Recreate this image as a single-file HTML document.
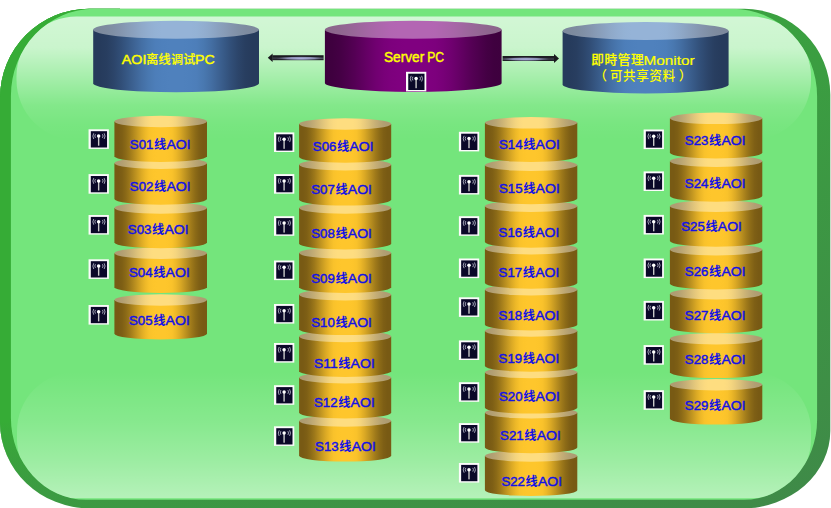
<!DOCTYPE html>
<html lang="zh"><head><meta charset="utf-8"><title>AOI Network</title>
<style>
html,body{margin:0;padding:0;background:#fff;}
body{width:831px;height:508px;overflow:hidden;}
svg{display:block;}
text{font-family:"Liberation Sans","Noto Sans CJK SC",sans-serif;}
.lb{fill:#1212e6;}/*14*/
.lb .la{font-weight:normal;stroke:#1212e6;stroke-width:0.45px;}
.lb .cj{font-weight:700;}
.yt,.yt3{fill:#ffff00;}
.yt .la{font-weight:normal;stroke:#ffff00;stroke-width:0.45px;}
.yt .lt{stroke-width:0.22px;}
.yt .cj{font-weight:500;stroke:#ffff00;stroke-width:0.2px;}
.yt3 .cj{font-weight:500;}
</style></head><body>
<svg width="831" height="508" viewBox="0 0 831 508">
<defs><linearGradient id="gB" x1="0" y1="0" x2="1" y2="0"><stop offset="0" stop-color="rgb(38,59,92)"/><stop offset="0.0416667" stop-color="rgb(38,59,92)"/><stop offset="0.0833333" stop-color="rgb(40,62,96)"/><stop offset="0.125" stop-color="rgb(44,69,106)"/><stop offset="0.166667" stop-color="rgb(49,78,119)"/><stop offset="0.208333" stop-color="rgb(55,89,134)"/><stop offset="0.25" stop-color="rgb(62,100,149)"/><stop offset="0.291667" stop-color="rgb(68,111,164)"/><stop offset="0.333333" stop-color="rgb(73,120,176)"/><stop offset="0.375" stop-color="rgb(77,126,185)"/><stop offset="0.416667" stop-color="rgb(78,128,188)"/><stop offset="0.458333" stop-color="rgb(79,129,189)"/><stop offset="0.5" stop-color="rgb(79,129,189)"/><stop offset="0.541667" stop-color="rgb(79,129,189)"/><stop offset="0.583333" stop-color="rgb(78,128,188)"/><stop offset="0.625" stop-color="rgb(77,126,185)"/><stop offset="0.666667" stop-color="rgb(73,120,176)"/><stop offset="0.708333" stop-color="rgb(68,111,164)"/><stop offset="0.75" stop-color="rgb(62,100,149)"/><stop offset="0.791667" stop-color="rgb(55,89,134)"/><stop offset="0.833333" stop-color="rgb(49,78,119)"/><stop offset="0.875" stop-color="rgb(44,69,106)"/><stop offset="0.916667" stop-color="rgb(40,62,96)"/><stop offset="0.958333" stop-color="rgb(38,59,92)"/><stop offset="1" stop-color="rgb(38,59,92)"/></linearGradient>
<linearGradient id="gBT" x1="0" y1="0" x2="1" y2="0"><stop offset="0" stop-color="rgb(125,137,157)"/><stop offset="0.0416667" stop-color="rgb(125,138,157)"/><stop offset="0.0833333" stop-color="rgb(126,140,160)"/><stop offset="0.125" stop-color="rgb(128,144,166)"/><stop offset="0.166667" stop-color="rgb(132,149,174)"/><stop offset="0.208333" stop-color="rgb(136,156,183)"/><stop offset="0.25" stop-color="rgb(139,162,192)"/><stop offset="0.291667" stop-color="rgb(143,169,201)"/><stop offset="0.333333" stop-color="rgb(146,174,208)"/><stop offset="0.375" stop-color="rgb(148,178,213)"/><stop offset="0.416667" stop-color="rgb(149,179,215)"/><stop offset="0.458333" stop-color="rgb(149,179,215)"/><stop offset="0.5" stop-color="rgb(149,179,215)"/><stop offset="0.541667" stop-color="rgb(149,179,215)"/><stop offset="0.583333" stop-color="rgb(149,179,215)"/><stop offset="0.625" stop-color="rgb(148,178,213)"/><stop offset="0.666667" stop-color="rgb(146,174,208)"/><stop offset="0.708333" stop-color="rgb(143,169,201)"/><stop offset="0.75" stop-color="rgb(139,162,192)"/><stop offset="0.791667" stop-color="rgb(136,156,183)"/><stop offset="0.833333" stop-color="rgb(132,149,174)"/><stop offset="0.875" stop-color="rgb(128,144,166)"/><stop offset="0.916667" stop-color="rgb(126,140,160)"/><stop offset="0.958333" stop-color="rgb(125,138,157)"/><stop offset="1" stop-color="rgb(125,137,157)"/></linearGradient>
<linearGradient id="gP" x1="0" y1="0" x2="1" y2="0"><stop offset="0" stop-color="rgb(62,0,62)"/><stop offset="0.0416667" stop-color="rgb(63,0,63)"/><stop offset="0.0833333" stop-color="rgb(68,0,68)"/><stop offset="0.125" stop-color="rgb(76,0,76)"/><stop offset="0.166667" stop-color="rgb(84,0,84)"/><stop offset="0.208333" stop-color="rgb(94,0,94)"/><stop offset="0.25" stop-color="rgb(104,0,104)"/><stop offset="0.291667" stop-color="rgb(113,0,113)"/><stop offset="0.333333" stop-color="rgb(120,0,120)"/><stop offset="0.375" stop-color="rgb(125,0,125)"/><stop offset="0.416667" stop-color="rgb(127,0,127)"/><stop offset="0.458333" stop-color="rgb(128,0,128)"/><stop offset="0.5" stop-color="rgb(128,0,128)"/><stop offset="0.541667" stop-color="rgb(128,0,128)"/><stop offset="0.583333" stop-color="rgb(127,0,127)"/><stop offset="0.625" stop-color="rgb(125,0,125)"/><stop offset="0.666667" stop-color="rgb(120,0,120)"/><stop offset="0.708333" stop-color="rgb(113,0,113)"/><stop offset="0.75" stop-color="rgb(104,0,104)"/><stop offset="0.791667" stop-color="rgb(94,0,94)"/><stop offset="0.833333" stop-color="rgb(84,0,84)"/><stop offset="0.875" stop-color="rgb(76,0,76)"/><stop offset="0.916667" stop-color="rgb(68,0,68)"/><stop offset="0.958333" stop-color="rgb(63,0,63)"/><stop offset="1" stop-color="rgb(62,0,62)"/></linearGradient>
<linearGradient id="gPT" x1="0" y1="0" x2="1" y2="0"><stop offset="0" stop-color="rgb(139,102,139)"/><stop offset="0.0416667" stop-color="rgb(140,102,140)"/><stop offset="0.0833333" stop-color="rgb(143,102,143)"/><stop offset="0.125" stop-color="rgb(148,102,148)"/><stop offset="0.166667" stop-color="rgb(153,102,153)"/><stop offset="0.208333" stop-color="rgb(159,102,159)"/><stop offset="0.25" stop-color="rgb(165,102,165)"/><stop offset="0.291667" stop-color="rgb(170,102,170)"/><stop offset="0.333333" stop-color="rgb(174,102,174)"/><stop offset="0.375" stop-color="rgb(178,102,178)"/><stop offset="0.416667" stop-color="rgb(179,102,179)"/><stop offset="0.458333" stop-color="rgb(179,102,179)"/><stop offset="0.5" stop-color="rgb(179,102,179)"/><stop offset="0.541667" stop-color="rgb(179,102,179)"/><stop offset="0.583333" stop-color="rgb(179,102,179)"/><stop offset="0.625" stop-color="rgb(178,102,178)"/><stop offset="0.666667" stop-color="rgb(174,102,174)"/><stop offset="0.708333" stop-color="rgb(170,102,170)"/><stop offset="0.75" stop-color="rgb(165,102,165)"/><stop offset="0.791667" stop-color="rgb(159,102,159)"/><stop offset="0.833333" stop-color="rgb(153,102,153)"/><stop offset="0.875" stop-color="rgb(148,102,148)"/><stop offset="0.916667" stop-color="rgb(143,102,143)"/><stop offset="0.958333" stop-color="rgb(140,102,140)"/><stop offset="1" stop-color="rgb(139,102,139)"/></linearGradient>
<linearGradient id="gY" x1="0" y1="0" x2="1" y2="0"><stop offset="0" stop-color="rgb(120,90,20)"/><stop offset="0.0416667" stop-color="rgb(120,90,20)"/><stop offset="0.0833333" stop-color="rgb(126,95,21)"/><stop offset="0.125" stop-color="rgb(139,106,23)"/><stop offset="0.166667" stop-color="rgb(157,120,26)"/><stop offset="0.208333" stop-color="rgb(178,137,30)"/><stop offset="0.25" stop-color="rgb(199,154,34)"/><stop offset="0.291667" stop-color="rgb(220,170,37)"/><stop offset="0.333333" stop-color="rgb(237,184,40)"/><stop offset="0.375" stop-color="rgb(249,194,43)"/><stop offset="0.416667" stop-color="rgb(253,197,43)"/><stop offset="0.458333" stop-color="rgb(254,198,44)"/><stop offset="0.5" stop-color="rgb(254,198,44)"/><stop offset="0.541667" stop-color="rgb(254,198,44)"/><stop offset="0.583333" stop-color="rgb(253,197,43)"/><stop offset="0.625" stop-color="rgb(249,194,43)"/><stop offset="0.666667" stop-color="rgb(237,184,40)"/><stop offset="0.708333" stop-color="rgb(220,170,37)"/><stop offset="0.75" stop-color="rgb(199,154,34)"/><stop offset="0.791667" stop-color="rgb(178,137,30)"/><stop offset="0.833333" stop-color="rgb(157,120,26)"/><stop offset="0.875" stop-color="rgb(139,106,23)"/><stop offset="0.916667" stop-color="rgb(126,95,21)"/><stop offset="0.958333" stop-color="rgb(120,90,20)"/><stop offset="1" stop-color="rgb(120,90,20)"/></linearGradient>
<linearGradient id="gYT" x1="0" y1="0" x2="1" y2="0"><stop offset="0" stop-color="rgb(174,156,114)"/><stop offset="0.0416667" stop-color="rgb(174,156,114)"/><stop offset="0.0833333" stop-color="rgb(178,159,115)"/><stop offset="0.125" stop-color="rgb(186,166,116)"/><stop offset="0.166667" stop-color="rgb(197,174,118)"/><stop offset="0.208333" stop-color="rgb(209,184,120)"/><stop offset="0.25" stop-color="rgb(222,195,123)"/><stop offset="0.291667" stop-color="rgb(234,204,125)"/><stop offset="0.333333" stop-color="rgb(244,213,127)"/><stop offset="0.375" stop-color="rgb(251,218,128)"/><stop offset="0.416667" stop-color="rgb(254,221,128)"/><stop offset="0.458333" stop-color="rgb(254,221,128)"/><stop offset="0.5" stop-color="rgb(254,221,128)"/><stop offset="0.541667" stop-color="rgb(254,221,128)"/><stop offset="0.583333" stop-color="rgb(254,221,128)"/><stop offset="0.625" stop-color="rgb(251,218,128)"/><stop offset="0.666667" stop-color="rgb(244,213,127)"/><stop offset="0.708333" stop-color="rgb(234,204,125)"/><stop offset="0.75" stop-color="rgb(222,195,123)"/><stop offset="0.791667" stop-color="rgb(209,184,120)"/><stop offset="0.833333" stop-color="rgb(197,174,118)"/><stop offset="0.875" stop-color="rgb(186,166,116)"/><stop offset="0.916667" stop-color="rgb(178,159,115)"/><stop offset="0.958333" stop-color="rgb(174,156,114)"/><stop offset="1" stop-color="rgb(174,156,114)"/></linearGradient>
<linearGradient id="bevA" gradientUnits="userSpaceOnUse" x1="0" y1="0" x2="347" y2="736"><stop offset="0" stop-color="rgb(55,178,58)"/><stop offset="1" stop-color="rgb(63,137,72)"/></linearGradient>
<linearGradient id="bevL" gradientUnits="userSpaceOnUse" x1="0" y1="421" x2="0" y2="492"><stop offset="0" stop-color="rgb(54,172,54)" stop-opacity="1"/><stop offset="1" stop-color="rgb(56,160,58)" stop-opacity="0"/></linearGradient>
<linearGradient id="hlT" x1="0" y1="0" x2="0" y2="1"><stop offset="0" stop-color="#fff" stop-opacity="0.68"/><stop offset="0.25" stop-color="#fff" stop-opacity="0.62"/><stop offset="0.5" stop-color="#fff" stop-opacity="0.35"/><stop offset="0.72" stop-color="#fff" stop-opacity="0.11"/><stop offset="0.88" stop-color="#fff" stop-opacity="0.03"/><stop offset="1" stop-color="#fff" stop-opacity="0"/></linearGradient>
<linearGradient id="hlB" x1="0" y1="0" x2="0" y2="1"><stop offset="0" stop-color="#fff" stop-opacity="0"/><stop offset="0.4" stop-color="#fff" stop-opacity="0.14"/><stop offset="0.7" stop-color="#fff" stop-opacity="0.29"/><stop offset="1" stop-color="#fff" stop-opacity="0.47"/></linearGradient>
<clipPath id="faceClip"><path d="M94.00,8.80 L732.60,8.80 A84.50,87.50 0 0 1 817.10,96.30 L817.10,419.95 A73.10,79.80 0 0 1 744.00,499.75 L85.90,499.75 A75.00,82.00 0 0 1 10.90,417.75 L10.90,95.80 A83.10,87.00 0 0 1 94.00,8.80 Z"/></clipPath>
<clipPath id="outerClip"><path d="M89.00,8.80 L744.30,8.80 A86.00,86.00 0 0 1 830.30,94.80 L830.30,431.00 A88.00,77.40 0 0 1 742.30,508.40 L90.00,508.40 A90.00,86.00 0 0 1 0.00,422.40 L0.00,97.80 A89.00,89.00 0 0 1 89.00,8.80 Z"/></clipPath>
<linearGradient id="shaft" x1="0" y1="0" x2="0" y2="1"><stop offset="0" stop-color="#26262c"/><stop offset="0.2" stop-color="#141418"/><stop offset="0.6" stop-color="#3c3d4a"/><stop offset="1" stop-color="#17171c"/></linearGradient>
<radialGradient id="shine" cx="0.5" cy="0.5" r="0.5"><stop offset="0" stop-color="#b0b5e2" stop-opacity="1"/><stop offset="0.55" stop-color="#a0a5d0" stop-opacity="0.8"/><stop offset="1" stop-color="#8085a8" stop-opacity="0"/></radialGradient>
<g id="ic"><rect x="0.1" y="0.1" width="20.3" height="19.6" fill="#fbfbfb"/><rect x="2.35" y="2" width="16.25" height="16.3" fill="#0a0828"/>
<rect x="9.5" y="7" width="1.4" height="9.5" fill="#c8c8c8"/><circle cx="10.2" cy="6.9" r="1.75" fill="#fff"/>
<path d="M5.3,4.1 Q3.5,6.9 5.3,9.8 M7.0,5.0 Q5.7,6.8 7.0,8.7 M15.7,4.1 Q17.5,6.9 15.7,9.8 M14.0,5.0 Q15.3,6.8 14.0,8.7" fill="none" stroke="#b4b4c6" stroke-width="0.9"/></g></defs>
<rect width="831" height="508" fill="#fff"/>
<path d="M89.00,8.80 L744.30,8.80 A86.00,86.00 0 0 1 830.30,94.80 L830.30,431.00 A88.00,77.40 0 0 1 742.30,508.40 L90.00,508.40 A90.00,86.00 0 0 1 0.00,422.40 L0.00,97.80 A89.00,89.00 0 0 1 89.00,8.80 Z" fill="url(#bevA)"/>
<g clip-path="url(#outerClip)"><rect x="0" y="0" width="120" height="495" fill="url(#bevL)"/><rect x="0" y="0" width="120" height="421" fill="rgb(54,172,54)"/></g>
<g clip-path="url(#outerClip)"><path d="M94.00,8.80 L732.60,8.80 A84.50,87.50 0 0 1 817.10,96.30 L817.10,419.95 A73.10,79.80 0 0 1 744.00,499.75 L85.90,499.75 A75.00,82.00 0 0 1 10.90,417.75 L10.90,95.80 A83.10,87.00 0 0 1 94.00,8.80 Z" fill="rgb(116,229,124)"/></g>
<g clip-path="url(#faceClip)">
<rect x="16.5" y="16.5" width="794.5" height="123.5" rx="60" ry="60" fill="url(#hlT)"/>
<rect x="17" y="372" width="794.0" height="126.3" rx="59" ry="59" fill="url(#hlB)"/>
</g>
<rect x="272.30" y="55.20" width="51.30" height="5.00" fill="url(#shaft)"/><ellipse cx="300.95" cy="58.30" rx="24.65" ry="2.00" fill="url(#shine)"/><path d="M267.80,57.70 L272.60,53.40 L272.60,62.00 Z" fill="#19191e"/>
<rect x="502.60" y="56.00" width="51.70" height="5.00" fill="url(#shaft)"/><ellipse cx="525.45" cy="59.10" rx="24.85" ry="2.00" fill="url(#shine)"/><path d="M559.00,58.50 L554.00,54.00 L554.00,63.00 Z" fill="#19191e"/>
<path d="M93.20,29.80 L93.20,83.30 A82.90,9.00 0 0 0 259.00,83.30 L259.00,29.80 Z" fill="url(#gB)"/><ellipse cx="176.10" cy="29.80" rx="82.90" ry="9.00" fill="url(#gBT)"/>
<path d="M324.90,29.80 L324.90,82.90 A88.35,9.00 0 0 0 501.60,82.90 L501.60,29.80 Z" fill="url(#gP)"/><ellipse cx="413.25" cy="29.80" rx="88.35" ry="9.00" fill="url(#gPT)"/>
<path d="M562.60,31.00 L562.60,84.50 A83.00,9.00 0 0 0 728.60,84.50 L728.60,31.00 Z" fill="url(#gB)"/><ellipse cx="645.60" cy="31.00" rx="83.00" ry="9.00" fill="url(#gBT)"/>
<path d="M114.40,299.95 L114.40,333.75 A46.30,5.75 0 0 0 207.00,333.75 L207.00,299.95 Z" fill="url(#gY)"/><ellipse cx="160.70" cy="299.95" rx="46.30" ry="5.75" fill="url(#gYT)"/>
<path d="M114.40,253.25 L114.40,287.15 A46.30,5.75 0 0 0 207.00,287.15 L207.00,253.25 Z" fill="url(#gY)"/><ellipse cx="160.70" cy="253.25" rx="46.30" ry="5.75" fill="url(#gYT)"/>
<path d="M114.40,207.95 L114.40,242.55 A46.30,5.75 0 0 0 207.00,242.55 L207.00,207.95 Z" fill="url(#gY)"/><ellipse cx="160.70" cy="207.95" rx="46.30" ry="5.75" fill="url(#gYT)"/>
<path d="M114.40,163.25 L114.40,198.95 A46.30,5.75 0 0 0 207.00,198.95 L207.00,163.25 Z" fill="url(#gY)"/><ellipse cx="160.70" cy="163.25" rx="46.30" ry="5.75" fill="url(#gYT)"/>
<path d="M114.40,121.55 L114.40,156.25 A46.30,5.75 0 0 0 207.00,156.25 L207.00,121.55 Z" fill="url(#gY)"/><ellipse cx="160.70" cy="121.55" rx="46.30" ry="5.75" fill="url(#gYT)"/>
<text y="148.90" class="lb"><tspan class="la" x="129.80" textLength="23.60" lengthAdjust="spacingAndGlyphs" font-size="13.5">S01</tspan><tspan class="cj" x="154.00" textLength="12.20" lengthAdjust="spacingAndGlyphs" font-size="12.2">线</tspan><tspan class="la" x="166.40" textLength="24.20" lengthAdjust="spacingAndGlyphs" font-size="13.5">AOI</tspan></text>
<use href="#ic" x="88.45" y="129.20"/>
<text y="190.50" class="lb"><tspan class="la" x="129.80" textLength="23.60" lengthAdjust="spacingAndGlyphs" font-size="13.5">S02</tspan><tspan class="cj" x="154.00" textLength="12.20" lengthAdjust="spacingAndGlyphs" font-size="12.2">线</tspan><tspan class="la" x="166.40" textLength="24.20" lengthAdjust="spacingAndGlyphs" font-size="13.5">AOI</tspan></text>
<use href="#ic" x="88.45" y="174.00"/>
<text y="233.80" class="lb"><tspan class="la" x="127.80" textLength="23.60" lengthAdjust="spacingAndGlyphs" font-size="13.5">S03</tspan><tspan class="cj" x="152.00" textLength="12.20" lengthAdjust="spacingAndGlyphs" font-size="12.2">线</tspan><tspan class="la" x="164.40" textLength="24.20" lengthAdjust="spacingAndGlyphs" font-size="13.5">AOI</tspan></text>
<use href="#ic" x="88.45" y="214.90"/>
<text y="277.00" class="lb"><tspan class="la" x="129.00" textLength="23.60" lengthAdjust="spacingAndGlyphs" font-size="13.5">S04</tspan><tspan class="cj" x="153.20" textLength="12.20" lengthAdjust="spacingAndGlyphs" font-size="12.2">线</tspan><tspan class="la" x="165.60" textLength="24.20" lengthAdjust="spacingAndGlyphs" font-size="13.5">AOI</tspan></text>
<use href="#ic" x="88.45" y="259.20"/>
<text y="324.90" class="lb"><tspan class="la" x="129.00" textLength="23.60" lengthAdjust="spacingAndGlyphs" font-size="13.5">S05</tspan><tspan class="cj" x="153.20" textLength="12.20" lengthAdjust="spacingAndGlyphs" font-size="12.2">线</tspan><tspan class="la" x="165.60" textLength="24.20" lengthAdjust="spacingAndGlyphs" font-size="13.5">AOI</tspan></text>
<use href="#ic" x="88.45" y="304.90"/>
<path d="M299.10,421.05 L299.10,455.85 A46.05,5.75 0 0 0 391.20,455.85 L391.20,421.05 Z" fill="url(#gY)"/><ellipse cx="345.15" cy="421.05" rx="46.05" ry="5.75" fill="url(#gYT)"/>
<path d="M299.10,377.75 L299.10,412.75 A46.05,5.75 0 0 0 391.20,412.75 L391.20,377.75 Z" fill="url(#gY)"/><ellipse cx="345.15" cy="377.75" rx="46.05" ry="5.75" fill="url(#gYT)"/>
<path d="M299.10,336.55 L299.10,371.15 A46.05,5.75 0 0 0 391.20,371.15 L391.20,336.55 Z" fill="url(#gY)"/><ellipse cx="345.15" cy="336.55" rx="46.05" ry="5.75" fill="url(#gYT)"/>
<path d="M299.10,294.75 L299.10,329.35 A46.05,5.75 0 0 0 391.20,329.35 L391.20,294.75 Z" fill="url(#gY)"/><ellipse cx="345.15" cy="294.75" rx="46.05" ry="5.75" fill="url(#gYT)"/>
<path d="M299.10,253.05 L299.10,287.25 A46.05,5.75 0 0 0 391.20,287.25 L391.20,253.05 Z" fill="url(#gY)"/><ellipse cx="345.15" cy="253.05" rx="46.05" ry="5.75" fill="url(#gYT)"/>
<path d="M299.10,208.05 L299.10,243.65 A46.05,5.75 0 0 0 391.20,243.65 L391.20,208.05 Z" fill="url(#gY)"/><ellipse cx="345.15" cy="208.05" rx="46.05" ry="5.75" fill="url(#gYT)"/>
<path d="M299.10,164.75 L299.10,199.85 A46.05,5.75 0 0 0 391.20,199.85 L391.20,164.75 Z" fill="url(#gY)"/><ellipse cx="345.15" cy="164.75" rx="46.05" ry="5.75" fill="url(#gYT)"/>
<path d="M299.10,123.95 L299.10,156.95 A46.05,5.75 0 0 0 391.20,156.95 L391.20,123.95 Z" fill="url(#gY)"/><ellipse cx="345.15" cy="123.95" rx="46.05" ry="5.75" fill="url(#gYT)"/>
<text y="150.90" class="lb"><tspan class="la" x="312.80" textLength="23.60" lengthAdjust="spacingAndGlyphs" font-size="13.5">S06</tspan><tspan class="cj" x="337.00" textLength="12.20" lengthAdjust="spacingAndGlyphs" font-size="12.2">线</tspan><tspan class="la" x="349.40" textLength="24.20" lengthAdjust="spacingAndGlyphs" font-size="13.5">AOI</tspan></text>
<use href="#ic" x="273.90" y="132.30"/>
<text y="194.10" class="lb"><tspan class="la" x="311.20" textLength="23.60" lengthAdjust="spacingAndGlyphs" font-size="13.5">S07</tspan><tspan class="cj" x="335.40" textLength="12.20" lengthAdjust="spacingAndGlyphs" font-size="12.2">线</tspan><tspan class="la" x="347.80" textLength="24.20" lengthAdjust="spacingAndGlyphs" font-size="13.5">AOI</tspan></text>
<use href="#ic" x="273.90" y="174.00"/>
<text y="237.70" class="lb"><tspan class="la" x="311.20" textLength="23.60" lengthAdjust="spacingAndGlyphs" font-size="13.5">S08</tspan><tspan class="cj" x="335.40" textLength="12.20" lengthAdjust="spacingAndGlyphs" font-size="12.2">线</tspan><tspan class="la" x="347.80" textLength="24.20" lengthAdjust="spacingAndGlyphs" font-size="13.5">AOI</tspan></text>
<use href="#ic" x="273.90" y="216.10"/>
<text y="282.90" class="lb"><tspan class="la" x="311.20" textLength="23.60" lengthAdjust="spacingAndGlyphs" font-size="13.5">S09</tspan><tspan class="cj" x="335.40" textLength="12.20" lengthAdjust="spacingAndGlyphs" font-size="12.2">线</tspan><tspan class="la" x="347.80" textLength="24.20" lengthAdjust="spacingAndGlyphs" font-size="13.5">AOI</tspan></text>
<use href="#ic" x="273.90" y="260.40"/>
<text y="327.20" class="lb"><tspan class="la" x="311.20" textLength="23.60" lengthAdjust="spacingAndGlyphs" font-size="13.5">S10</tspan><tspan class="cj" x="335.40" textLength="12.20" lengthAdjust="spacingAndGlyphs" font-size="12.2">线</tspan><tspan class="la" x="347.80" textLength="24.20" lengthAdjust="spacingAndGlyphs" font-size="13.5">AOI</tspan></text>
<use href="#ic" x="273.90" y="303.90"/>
<text y="367.80" class="lb"><tspan class="la" x="314.00" textLength="23.60" lengthAdjust="spacingAndGlyphs" font-size="13.5">S11</tspan><tspan class="cj" x="338.20" textLength="12.20" lengthAdjust="spacingAndGlyphs" font-size="12.2">线</tspan><tspan class="la" x="350.60" textLength="24.20" lengthAdjust="spacingAndGlyphs" font-size="13.5">AOI</tspan></text>
<use href="#ic" x="273.90" y="342.90"/>
<text y="407.00" class="lb"><tspan class="la" x="314.00" textLength="23.60" lengthAdjust="spacingAndGlyphs" font-size="13.5">S12</tspan><tspan class="cj" x="338.20" textLength="12.20" lengthAdjust="spacingAndGlyphs" font-size="12.2">线</tspan><tspan class="la" x="350.60" textLength="24.20" lengthAdjust="spacingAndGlyphs" font-size="13.5">AOI</tspan></text>
<use href="#ic" x="273.90" y="385.10"/>
<text y="451.10" class="lb"><tspan class="la" x="315.10" textLength="23.60" lengthAdjust="spacingAndGlyphs" font-size="13.5">S13</tspan><tspan class="cj" x="339.30" textLength="12.20" lengthAdjust="spacingAndGlyphs" font-size="12.2">线</tspan><tspan class="la" x="351.70" textLength="24.20" lengthAdjust="spacingAndGlyphs" font-size="13.5">AOI</tspan></text>
<use href="#ic" x="273.90" y="426.20"/>
<path d="M484.90,456.05 L484.90,490.25 A46.20,5.75 0 0 0 577.30,490.25 L577.30,456.05 Z" fill="url(#gY)"/><ellipse cx="531.10" cy="456.05" rx="46.20" ry="5.75" fill="url(#gYT)"/>
<path d="M484.90,412.75 L484.90,447.55 A46.20,5.75 0 0 0 577.30,447.55 L577.30,412.75 Z" fill="url(#gY)"/><ellipse cx="531.10" cy="412.75" rx="46.20" ry="5.75" fill="url(#gYT)"/>
<path d="M484.90,372.55 L484.90,407.85 A46.20,5.75 0 0 0 577.30,407.85 L577.30,372.55 Z" fill="url(#gY)"/><ellipse cx="531.10" cy="372.55" rx="46.20" ry="5.75" fill="url(#gYT)"/>
<path d="M484.90,331.05 L484.90,365.95 A46.20,5.75 0 0 0 577.30,365.95 L577.30,331.05 Z" fill="url(#gY)"/><ellipse cx="531.10" cy="331.05" rx="46.20" ry="5.75" fill="url(#gYT)"/>
<path d="M484.90,289.75 L484.90,324.65 A46.20,5.75 0 0 0 577.30,324.65 L577.30,289.75 Z" fill="url(#gY)"/><ellipse cx="531.10" cy="289.75" rx="46.20" ry="5.75" fill="url(#gYT)"/>
<path d="M484.90,248.75 L484.90,282.95 A46.20,5.75 0 0 0 577.30,282.95 L577.30,248.75 Z" fill="url(#gY)"/><ellipse cx="531.10" cy="248.75" rx="46.20" ry="5.75" fill="url(#gYT)"/>
<path d="M484.90,206.25 L484.90,242.05 A46.20,5.75 0 0 0 577.30,242.05 L577.30,206.25 Z" fill="url(#gY)"/><ellipse cx="531.10" cy="206.25" rx="46.20" ry="5.75" fill="url(#gYT)"/>
<path d="M484.90,165.15 L484.90,198.55 A46.20,5.75 0 0 0 577.30,198.55 L577.30,165.15 Z" fill="url(#gY)"/><ellipse cx="531.10" cy="165.15" rx="46.20" ry="5.75" fill="url(#gYT)"/>
<path d="M484.90,122.85 L484.90,156.15 A46.20,5.75 0 0 0 577.30,156.15 L577.30,122.85 Z" fill="url(#gY)"/><ellipse cx="531.10" cy="122.85" rx="46.20" ry="5.75" fill="url(#gYT)"/>
<text y="148.90" class="lb"><tspan class="la" x="499.00" textLength="23.60" lengthAdjust="spacingAndGlyphs" font-size="13.5">S14</tspan><tspan class="cj" x="523.20" textLength="12.20" lengthAdjust="spacingAndGlyphs" font-size="12.2">线</tspan><tspan class="la" x="535.60" textLength="24.20" lengthAdjust="spacingAndGlyphs" font-size="13.5">AOI</tspan></text>
<use href="#ic" x="458.80" y="131.70"/>
<text y="193.00" class="lb"><tspan class="la" x="499.00" textLength="23.60" lengthAdjust="spacingAndGlyphs" font-size="13.5">S15</tspan><tspan class="cj" x="523.20" textLength="12.20" lengthAdjust="spacingAndGlyphs" font-size="12.2">线</tspan><tspan class="la" x="535.60" textLength="24.20" lengthAdjust="spacingAndGlyphs" font-size="13.5">AOI</tspan></text>
<use href="#ic" x="458.80" y="174.80"/>
<text y="236.90" class="lb"><tspan class="la" x="498.60" textLength="23.60" lengthAdjust="spacingAndGlyphs" font-size="13.5">S16</tspan><tspan class="cj" x="522.80" textLength="12.20" lengthAdjust="spacingAndGlyphs" font-size="12.2">线</tspan><tspan class="la" x="535.20" textLength="24.20" lengthAdjust="spacingAndGlyphs" font-size="13.5">AOI</tspan></text>
<use href="#ic" x="458.80" y="216.10"/>
<text y="276.90" class="lb"><tspan class="la" x="498.60" textLength="23.60" lengthAdjust="spacingAndGlyphs" font-size="13.5">S17</tspan><tspan class="cj" x="522.80" textLength="12.20" lengthAdjust="spacingAndGlyphs" font-size="12.2">线</tspan><tspan class="la" x="535.20" textLength="24.20" lengthAdjust="spacingAndGlyphs" font-size="13.5">AOI</tspan></text>
<use href="#ic" x="458.80" y="258.40"/>
<text y="319.70" class="lb"><tspan class="la" x="498.60" textLength="23.60" lengthAdjust="spacingAndGlyphs" font-size="13.5">S18</tspan><tspan class="cj" x="522.80" textLength="12.20" lengthAdjust="spacingAndGlyphs" font-size="12.2">线</tspan><tspan class="la" x="535.20" textLength="24.20" lengthAdjust="spacingAndGlyphs" font-size="13.5">AOI</tspan></text>
<use href="#ic" x="458.80" y="297.20"/>
<text y="363.10" class="lb"><tspan class="la" x="498.60" textLength="23.60" lengthAdjust="spacingAndGlyphs" font-size="13.5">S19</tspan><tspan class="cj" x="522.80" textLength="12.20" lengthAdjust="spacingAndGlyphs" font-size="12.2">线</tspan><tspan class="la" x="535.20" textLength="24.20" lengthAdjust="spacingAndGlyphs" font-size="13.5">AOI</tspan></text>
<use href="#ic" x="458.80" y="340.30"/>
<text y="400.80" class="lb"><tspan class="la" x="499.00" textLength="23.60" lengthAdjust="spacingAndGlyphs" font-size="13.5">S20</tspan><tspan class="cj" x="523.20" textLength="12.20" lengthAdjust="spacingAndGlyphs" font-size="12.2">线</tspan><tspan class="la" x="535.60" textLength="24.20" lengthAdjust="spacingAndGlyphs" font-size="13.5">AOI</tspan></text>
<use href="#ic" x="458.80" y="382.10"/>
<text y="439.80" class="lb"><tspan class="la" x="500.10" textLength="23.60" lengthAdjust="spacingAndGlyphs" font-size="13.5">S21</tspan><tspan class="cj" x="524.30" textLength="12.20" lengthAdjust="spacingAndGlyphs" font-size="12.2">线</tspan><tspan class="la" x="536.70" textLength="24.20" lengthAdjust="spacingAndGlyphs" font-size="13.5">AOI</tspan></text>
<use href="#ic" x="458.80" y="423.00"/>
<text y="485.90" class="lb"><tspan class="la" x="501.40" textLength="23.60" lengthAdjust="spacingAndGlyphs" font-size="13.5">S22</tspan><tspan class="cj" x="525.60" textLength="12.20" lengthAdjust="spacingAndGlyphs" font-size="12.2">线</tspan><tspan class="la" x="538.00" textLength="24.20" lengthAdjust="spacingAndGlyphs" font-size="13.5">AOI</tspan></text>
<use href="#ic" x="458.80" y="462.90"/>
<path d="M669.90,384.75 L669.90,418.85 A46.20,5.75 0 0 0 762.30,418.85 L762.30,384.75 Z" fill="url(#gY)"/><ellipse cx="716.10" cy="384.75" rx="46.20" ry="5.75" fill="url(#gYT)"/>
<path d="M669.90,338.75 L669.90,372.35 A46.20,5.75 0 0 0 762.30,372.35 L762.30,338.75 Z" fill="url(#gY)"/><ellipse cx="716.10" cy="338.75" rx="46.20" ry="5.75" fill="url(#gYT)"/>
<path d="M669.90,293.75 L669.90,327.55 A46.20,5.75 0 0 0 762.30,327.55 L762.30,293.75 Z" fill="url(#gY)"/><ellipse cx="716.10" cy="293.75" rx="46.20" ry="5.75" fill="url(#gYT)"/>
<path d="M669.90,249.75 L669.90,283.75 A46.20,5.75 0 0 0 762.30,283.75 L762.30,249.75 Z" fill="url(#gY)"/><ellipse cx="716.10" cy="249.75" rx="46.20" ry="5.75" fill="url(#gYT)"/>
<path d="M669.90,206.15 L669.90,240.95 A46.20,5.75 0 0 0 762.30,240.95 L762.30,206.15 Z" fill="url(#gY)"/><ellipse cx="716.10" cy="206.15" rx="46.20" ry="5.75" fill="url(#gYT)"/>
<path d="M669.90,161.25 L669.90,195.95 A46.20,5.75 0 0 0 762.30,195.95 L762.30,161.25 Z" fill="url(#gY)"/><ellipse cx="716.10" cy="161.25" rx="46.20" ry="5.75" fill="url(#gYT)"/>
<path d="M669.90,118.35 L669.90,152.75 A46.20,5.75 0 0 0 762.30,152.75 L762.30,118.35 Z" fill="url(#gY)"/><ellipse cx="716.10" cy="118.35" rx="46.20" ry="5.75" fill="url(#gYT)"/>
<text y="144.70" class="lb"><tspan class="la" x="684.80" textLength="23.60" lengthAdjust="spacingAndGlyphs" font-size="13.5">S23</tspan><tspan class="cj" x="709.00" textLength="12.20" lengthAdjust="spacingAndGlyphs" font-size="12.2">线</tspan><tspan class="la" x="721.40" textLength="24.20" lengthAdjust="spacingAndGlyphs" font-size="13.5">AOI</tspan></text>
<use href="#ic" x="643.50" y="129.40"/>
<text y="188.00" class="lb"><tspan class="la" x="684.80" textLength="23.60" lengthAdjust="spacingAndGlyphs" font-size="13.5">S24</tspan><tspan class="cj" x="709.00" textLength="12.20" lengthAdjust="spacingAndGlyphs" font-size="12.2">线</tspan><tspan class="la" x="721.40" textLength="24.20" lengthAdjust="spacingAndGlyphs" font-size="13.5">AOI</tspan></text>
<use href="#ic" x="643.50" y="171.30"/>
<text y="231.10" class="lb"><tspan class="la" x="681.20" textLength="23.60" lengthAdjust="spacingAndGlyphs" font-size="13.5">S25</tspan><tspan class="cj" x="705.40" textLength="12.20" lengthAdjust="spacingAndGlyphs" font-size="12.2">线</tspan><tspan class="la" x="717.80" textLength="24.20" lengthAdjust="spacingAndGlyphs" font-size="13.5">AOI</tspan></text>
<use href="#ic" x="643.50" y="214.80"/>
<text y="275.80" class="lb"><tspan class="la" x="684.80" textLength="23.60" lengthAdjust="spacingAndGlyphs" font-size="13.5">S26</tspan><tspan class="cj" x="709.00" textLength="12.20" lengthAdjust="spacingAndGlyphs" font-size="12.2">线</tspan><tspan class="la" x="721.40" textLength="24.20" lengthAdjust="spacingAndGlyphs" font-size="13.5">AOI</tspan></text>
<use href="#ic" x="643.50" y="258.40"/>
<text y="319.70" class="lb"><tspan class="la" x="684.80" textLength="23.60" lengthAdjust="spacingAndGlyphs" font-size="13.5">S27</tspan><tspan class="cj" x="709.00" textLength="12.20" lengthAdjust="spacingAndGlyphs" font-size="12.2">线</tspan><tspan class="la" x="721.40" textLength="24.20" lengthAdjust="spacingAndGlyphs" font-size="13.5">AOI</tspan></text>
<use href="#ic" x="643.50" y="300.80"/>
<text y="364.20" class="lb"><tspan class="la" x="684.80" textLength="23.60" lengthAdjust="spacingAndGlyphs" font-size="13.5">S28</tspan><tspan class="cj" x="709.00" textLength="12.20" lengthAdjust="spacingAndGlyphs" font-size="12.2">线</tspan><tspan class="la" x="721.40" textLength="24.20" lengthAdjust="spacingAndGlyphs" font-size="13.5">AOI</tspan></text>
<use href="#ic" x="643.50" y="345.00"/>
<text y="409.70" class="lb"><tspan class="la" x="684.80" textLength="23.60" lengthAdjust="spacingAndGlyphs" font-size="13.5">S29</tspan><tspan class="cj" x="709.00" textLength="12.20" lengthAdjust="spacingAndGlyphs" font-size="12.2">线</tspan><tspan class="la" x="721.40" textLength="24.20" lengthAdjust="spacingAndGlyphs" font-size="13.5">AOI</tspan></text>
<use href="#ic" x="643.50" y="390.10"/>
<use href="#ic" x="405.9" y="71.7"/>
<text y="64.2" class="yt"><tspan class="la" x="121.80" textLength="24.60" lengthAdjust="spacingAndGlyphs" font-size="13.5">AOI</tspan><tspan class="cj" x="146.30" textLength="49.00" lengthAdjust="spacing" font-size="12.1">离线调试</tspan><tspan class="la" x="195.00" textLength="19.60" lengthAdjust="spacingAndGlyphs" font-size="13.5">PC</tspan></text>
<text y="61.5" class="yt"><tspan class="la" x="384.00" textLength="40.20" lengthAdjust="spacingAndGlyphs" font-size="14.2">Server</tspan><tspan class="la" x="427.20" textLength="16.80" lengthAdjust="spacingAndGlyphs" font-size="14.2">PC</tspan></text>
<text y="64.6" class="yt"><tspan class="cj" x="591.20" y="64.10" textLength="52.40" lengthAdjust="spacing" font-size="12.6">即時管理</tspan><tspan class="la lt" x="643.60" y="64.60" textLength="51.00" lengthAdjust="spacingAndGlyphs" font-size="13.4">Monitor</tspan></text>
<text y="80.3" class="yt3"><tspan class="cj" x="594.00" textLength="13.00" lengthAdjust="spacingAndGlyphs" font-size="13">（</tspan><tspan class="cj" x="610.00" textLength="65.00" lengthAdjust="spacing" font-size="12.6">可共享资料</tspan><tspan class="cj" x="678.80" textLength="13.00" lengthAdjust="spacingAndGlyphs" font-size="13">）</tspan></text>
</svg>
</body></html>
